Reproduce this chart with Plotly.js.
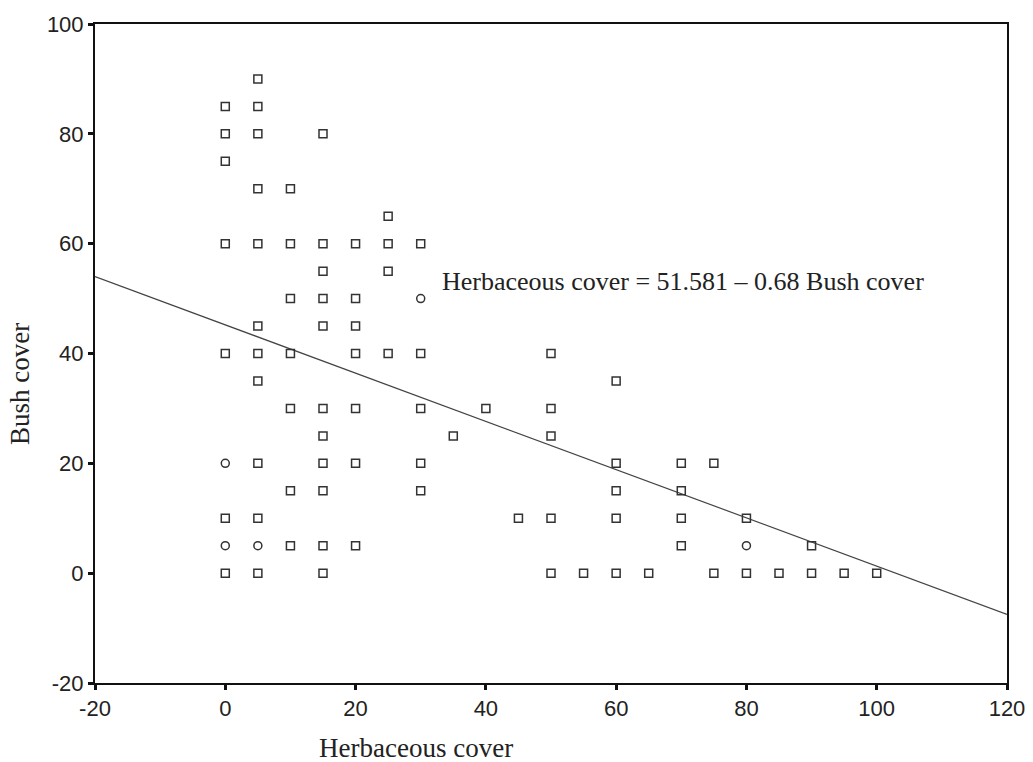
<!DOCTYPE html>
<html>
<head>
<meta charset="utf-8">
<script src="https://cdn.plot.ly/plotly-3.0.1.min.js"></script>
<style>html,body{margin:0;padding:0;background:#fff;}#chart{width:1033px;height:762px;}</style>
</head>
<body>
<div id="chart"></div>
<script>
// Open-square points (Herbaceous cover, Bush cover)
const squareX = [0,0,0,0,0,0,0,
  5,5,5,5,5,5,5,5,5,5,5,
  10,10,10,10,10,10,10,
  15,15,15,15,15,15,15,15,15,15,15,
  20,20,20,20,20,20,20,
  25,25,25,25,
  30,30,30,30,30,
  35,40,45,
  50,50,50,50,50,
  55,
  60,60,60,60,60,
  65,
  70,70,70,70,
  75,75,
  80,80,
  85,
  90,90,
  95,100];
const squareY = [85,80,75,60,40,10,0,
  90,85,80,70,60,45,40,35,20,10,0,
  70,60,50,40,30,15,5,
  80,60,55,50,45,30,25,20,15,5,0,
  60,50,45,40,30,20,5,
  65,60,55,40,
  60,40,30,20,15,
  25,30,10,
  40,30,25,10,0,
  0,
  35,20,15,10,0,
  0,
  20,15,10,5,
  20,0,
  10,0,
  0,
  5,0,
  0,0];
// Open-circle points
const circleX = [0,0,5,30,80];
const circleY = [20,5,5,50,5];
// Fitted line as drawn (end points)
const fitX = [-20,120];
const fitY = [54,-7.5];
const xTicks = [-20,0,20,40,60,80,100,120];
const yTicks = [-20,0,20,40,60,80,100];
const equation = "Herbaceous cover = 51.581 \u2013 0.68 Bush cover";

const mk = {color:'#333', size:8, line:{color:'#333', width:1.5}};
const traces = [
  {x:fitX, y:fitY, type:'scatter', mode:'lines', line:{color:'#444', width:1.2}, hoverinfo:'skip'},
  {x:squareX, y:squareY, type:'scatter', mode:'markers', marker:Object.assign({symbol:'square-open'}, mk)},
  {x:circleX, y:circleY, type:'scatter', mode:'markers', marker:Object.assign({symbol:'circle-open'}, mk)}
];
const tickFont = {family:'Liberation Sans, Arial, sans-serif', size:22, color:'#222'};
const serif = 'Liberation Serif, Times New Roman, serif';
const layout = {
  width:1033, height:762,
  margin:{l:95, r:26, t:24, b:79},
  paper_bgcolor:'#fff', plot_bgcolor:'#fff',
  showlegend:false,
  xaxis:{range:[-20,120], tickvals:xTicks, ticktext:xTicks.map(String), showgrid:false, zeroline:false,
    showline:true, linecolor:'#111', linewidth:2, mirror:true, ticks:'outside', ticklen:5, tickwidth:3, tickcolor:'#111',
    tickfont:tickFont},
  yaxis:{range:[-20,100], tickvals:yTicks, ticktext:yTicks.map(String), showgrid:false, zeroline:false,
    showline:true, linecolor:'#111', linewidth:2, mirror:true, ticks:'outside', ticklen:5, tickwidth:3, tickcolor:'#111',
    tickfont:tickFont},
  annotations:[
    {text:equation, x:32.9, y:53.1, xref:'x', yref:'y', xanchor:'left', yanchor:'middle', showarrow:false,
      font:{family:serif, size:26, color:'#222'}},
    {text:'Herbaceous cover', x:416, y:748, xref:'paper', yref:'paper', showarrow:false, xanchor:'center', yanchor:'middle',
      font:{family:serif, size:27, color:'#222'}},
    {text:'Bush cover', x:20, y:384, textangle:-90, showarrow:false, xanchor:'center', yanchor:'middle',
      font:{family:serif, size:27, color:'#222'}}
  ]
};
// convert pixel-placed titles to paper coords
const pw = 1033-95-26, ph = 762-24-79;
layout.annotations[1].x = (416-95)/pw; layout.annotations[1].y = (762-79-748)/ph;
layout.annotations[2].xref='paper'; layout.annotations[2].yref='paper';
layout.annotations[2].x = (20-95)/pw; layout.annotations[2].y = (762-79-384)/ph;
Plotly.newPlot('chart', traces, layout, {displayModeBar:false, staticPlot:true});
</script>
</body>
</html>
